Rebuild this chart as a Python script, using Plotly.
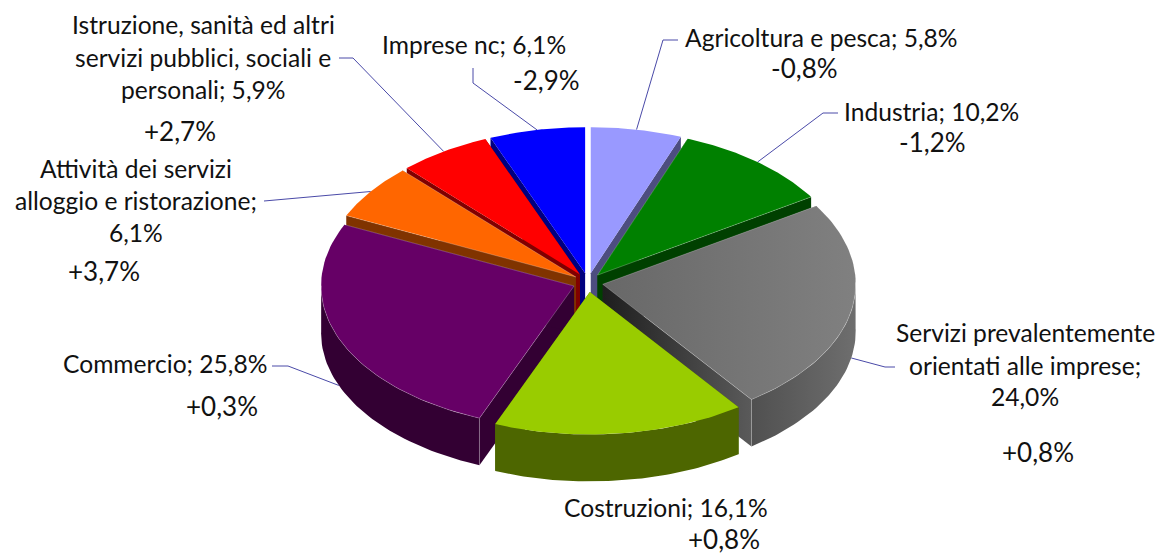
import math
import plotly.graph_objects as go

# ---- data -------------------------------------------------------------
categories = ["Agricoltura e pesca", "Industria", "Servizi prevalentemente orientati alle imprese",
              "Costruzioni", "Commercio", "Attività dei servizi alloggio e ristorazione",
              "Istruzione, sanità ed altri servizi pubblici, sociali e personali", "Imprese nc"]
shares = [5.8, 10.2, 24.0, 16.1, 25.8, 6.1, 5.9, 6.1]
changes = ["-0,8%", "-1,2%", "+0,8%", "+0,8%", "+0,3%", "+3,7%", "+2,7%", "-2,9%"]
label_lines = [
    ["Agricoltura e pesca; 5,8%"],
    ["Industria; 10,2%"],
    ["Servizi prevalentemente", "orientati alle imprese;", "24,0%"],
    ["Costruzioni; 16,1%"],
    ["Commercio; 25,8%"],
    ["Attività dei servizi", "alloggio e ristorazione;", "6,1%"],
    ["Istruzione, sanità ed altri", "servizi pubblici, sociali e", "personali; 5,9%"],
    ["Imprese nc; 6,1%"],
]

# ---- styling / layout constants ---------------------------------------
W, H = 1156, 555
FONT = "Lato"
TEXT = "#111111"
LEAD = "#4a4aa8"
top_colors = ["#9999FF", "#008000", None, "#99CC00", "#660066", "#FF6600", "#FF0000", "#0000FF"]
wall_colors = ["#4D4D80", "#004000", None, "#4D6600", "#330033", "#803300", "#800000", "#000080"]
has_edge = [False, True, True, False, True, True, False, False]
CX, CY = 588, 282.5
RX, RY_BACK, RY_FRONT = 253, 146, 142.5
DEPTH = 47
EXPL_X, EXPL_Y = 15, 9.5
# label block: x centre, y of each line; change label: x, y
label_pos = [(821, [37.5]), (931, [111.5]), (1025, [332.5, 365.5, 396.5]), (666, [507.5]),
             (165, [363.5]), (136, [168.5, 200.5, 232.5]), (203, [24.5, 57.5, 89.5]), (474, [44.5])]
change_pos = [(804, 68), (932, 142), (1038, 452), (724, 538.5),
              (222, 406), (104, 271), (180, 131), (546, 80)]
# leader: the bends after the slice anchor; whether the anchor sits at wall bottom
leader_bends = [[(663, 40), (678, 40)], [(823, 113), (838, 113)], [(885, 367), (895, 367)], None,
                [(288, 366), (272, 366)], [(280, 200), (264, 201)], [(353, 58), (339, 58)],
                [(473, 83), (473, 68)]]
leader_bottom = [False, False, True, False, True, False, False, False]

# ---- geometry, derived from the shares --------------------------------
total = sum(shares)
slices = []
acc = 0.0
for i, s in enumerate(shares):
    a0 = acc / total * 2 * math.pi
    acc += s
    a1 = acc / total * 2 * math.pi
    mid = (a0 + a1) / 2
    ax = CX + EXPL_X * math.sin(mid)
    ay = CY - EXPL_Y * math.cos(mid)
    slices.append(dict(i=i, a0=a0, a1=a1, mid=mid, ax=ax, ay=ay))


def at(sl, t):
    c = math.cos(t)
    ry = RY_BACK if c > 0 else RY_FRONT
    return (sl["ax"] + RX * math.sin(t), sl["ay"] - ry * c)


def rim(sl, n=60):
    return [at(sl, sl["a0"] + (sl["a1"] - sl["a0"]) * k / n) for k in range(n + 1)]


def poly(fig, pts, color=None, gradient=None):
    xs = [p[0] for p in pts] + [pts[0][0]]
    ys = [p[1] for p in pts] + [pts[0][1]]
    kw = dict(x=xs, y=ys, mode="lines", fill="toself", hoverinfo="skip", showlegend=False,
              line=dict(width=0, color="rgba(0,0,0,0)"))
    if gradient:
        kw["fillgradient"] = dict(type="horizontal", colorscale=gradient)
    else:
        kw["fillcolor"] = color
    fig.add_trace(go.Scatter(**kw))


def edge(fig, pts):
    fig.add_trace(go.Scatter(x=[p[0] for p in pts], y=[p[1] for p in pts], mode="lines",
                             line=dict(color="rgba(255,255,255,0.4)", width=0.6),
                             hoverinfo="skip", showlegend=False))


fig = go.Figure()

# leaders behind the pie
for sl, bends, bottom in zip(slices, leader_bends, leader_bottom):
    if not bends:
        continue
    x0, y0 = at(sl, sl["mid"])
    y0 += DEPTH if bottom else 0
    xs = [x0] + [b[0] for b in bends]
    ys = [y0] + [b[1] for b in bends]
    fig.add_trace(go.Scatter(x=xs, y=ys, mode="lines", line=dict(color=LEAD, width=1),
                             hoverinfo="skip", showlegend=False))

# painter's order: back slices first
for sl in sorted(slices, key=lambda s: -math.cos(s["mid"])):
    i = sl["i"]
    r = rim(sl)
    apex = (sl["ax"], sl["ay"])
    down = lambda p: (p[0], p[1] + DEPTH)
    is_gray = top_colors[i] is None
    wall = wall_colors[i]
    # radial walls
    for end in (r[0], r[-1]):
        q = [apex, end, down(end), down(apex)]
        if is_gray:
            poly(fig, q, gradient=[[0, "#1e1e1e"], [1, "#5a5a5a"]])
        else:
            poly(fig, q, color=wall)
    # outer wall (only the part facing the viewer shows)
    vis = [p for k, p in enumerate(r)
           if math.cos(sl["a0"] + (sl["a1"] - sl["a0"]) * k / (len(r) - 1)) <= 0.02]
    if len(vis) > 1:
        q = vis + [down(p) for p in reversed(vis)]
        if is_gray:
            poly(fig, q, gradient=[[0, "#505050"], [1, "#6e6e6e"]])
        else:
            poly(fig, q, color=wall)
    # top face
    q = [apex] + r
    if is_gray:
        poly(fig, q, gradient=[[0, "#686868"], [1, "#808080"]])
    else:
        poly(fig, q, color=top_colors[i])
    # faint highlights where the top meets the walls
    if has_edge[i]:
        edge(fig, [apex, r[0]])
        edge(fig, [apex, r[-1]])
        if len(vis) > 1:
            edge(fig, vis)
            edge(fig, [vis[0], down(vis[0])])
            edge(fig, [vis[-1], down(vis[-1])])

# labels
ann = []
for lines, (x, ys) in zip(label_lines, label_pos):
    for line, y in zip(lines, ys):
        ann.append(dict(x=x, y=y, text=line, showarrow=False, xanchor="center", yanchor="middle",
                        font=dict(family=FONT, size=24.6, color=TEXT)))
for ch, (x, y) in zip(changes, change_pos):
    ann.append(dict(x=x, y=y, text=ch, showarrow=False, xanchor="center", yanchor="middle",
                    font=dict(family=FONT, size=26, color=TEXT)))

fig.update_layout(
    width=W, height=H, margin=dict(l=0, r=0, t=0, b=0),
    paper_bgcolor="white", plot_bgcolor="white", showlegend=False,
    xaxis=dict(range=[0, W], visible=False, fixedrange=True),
    yaxis=dict(range=[H, 0], visible=False, fixedrange=True),
    annotations=ann,
)
fig.write_html("out.html", config={"displayModeBar": False},
               post_script="document.body.style.margin='0';document.body.style.overflow='hidden';")
